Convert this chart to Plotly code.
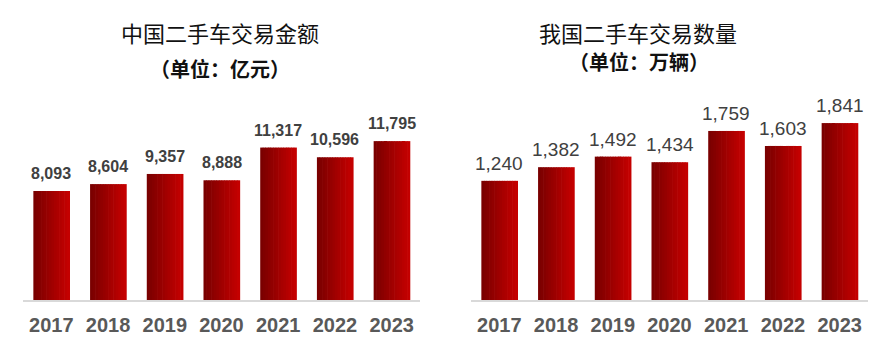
import plotly.graph_objects as go

years = ["2017", "2018", "2019", "2020", "2021", "2022", "2023"]
amount = [8093, 8604, 9357, 8888, 11317, 10596, 11795]   # 亿元
volume = [1240, 1382, 1492, 1434, 1759, 1603, 1841]      # 万辆

title_left = "中国二手车交易金额"
sub_left = "（单位：亿元）"
title_right = "我国二手车交易数量"
sub_right = "（单位：万辆）"

# gradient stops (left -> right of each bar)
c0 = (0x7a, 0x00, 0x00)
c1 = (0xc4, 0x00, 0x00)
N = 14
BW = 0.635

fig = go.Figure()


def add_bars(xa, ya, vals):
    step = BW / N
    for i in range(N):
        t = i / (N - 1)
        col = "rgb(%d,%d,%d)" % tuple(round(a + (b - a) * t) for a, b in zip(c0, c1))
        fig.add_trace(go.Bar(
            x=years, y=vals, xaxis=xa, yaxis=ya,
            width=step * 1.25, offset=-BW / 2 + i * step,
            marker=dict(color=col, line=dict(width=0)),
            showlegend=False, hoverinfo="skip",
        ))


add_bars("x", "y", amount)
add_bars("x2", "y2", volume)

annotations = []
for i, v in enumerate(amount):
    annotations.append(dict(x=i, y=v, xref="x", yref="y", text=f"{v:,}",
                            showarrow=False, yanchor="bottom", yshift=7,
                            font=dict(family="Liberation Sans, Arial", size=16,
                                      color="#404040", weight="bold")))
for i, v in enumerate(volume):
    annotations.append(dict(x=i, y=v, xref="x2", yref="y2", text=f"{v:,}",
                            showarrow=False, yanchor="bottom", yshift=5,
                            font=dict(family="Liberation Sans, Arial", size=19,
                                      color="#404040")))

cjk = "Noto Sans CJK SC"
annotations += [
    dict(x=220 / 891, y=1 - 32 / 351, xref="paper", yref="paper", text=title_left,
         xanchor="center", yanchor="middle",
         showarrow=False, font=dict(family=cjk, size=22, color="#111111")),
    dict(x=220 / 891, y=1 - 68 / 351, xref="paper", yref="paper", text=sub_left,
         xanchor="center", yanchor="middle",
         showarrow=False, font=dict(family=cjk, size=20, color="#111111", weight="bold")),
    dict(x=638 / 891, y=1 - 32 / 351, xref="paper", yref="paper", text=title_right,
         xanchor="center", yanchor="middle",
         showarrow=False, font=dict(family=cjk, size=22, color="#111111")),
    dict(x=639 / 891, y=1 - 62 / 351, xref="paper", yref="paper", text=sub_right,
         xanchor="center", yanchor="middle",
         showarrow=False, font=dict(family=cjk, size=20, color="#111111", weight="bold")),
]

xcommon = dict(type="category", range=[-0.5, len(years) - 0.5], autorange=False,
               showline=True, linecolor="#d9d9d9", linewidth=2,
               showgrid=False, zeroline=False,
               ticks="outside", ticklen=6, tickcolor="rgba(0,0,0,0)",
               tickfont=dict(family="Liberation Sans, Arial", size=20,
                             color="#595959", weight="bold"))
ybottom = 1 - 300 / 351
ytop = 1 - 100 / 351

fig.update_layout(
    width=891, height=351,
    margin=dict(l=0, r=0, t=0, b=0),
    paper_bgcolor="white", plot_bgcolor="white",
    barmode="overlay",
    showlegend=False,
    xaxis=dict(domain=[23 / 891, 420 / 891], anchor="y", **xcommon),
    xaxis2=dict(domain=[471 / 891, 868 / 891], anchor="y2", **xcommon),
    yaxis=dict(domain=[ybottom, ytop], range=[0, 200 / 0.01347], visible=False,
               anchor="x"),
    yaxis2=dict(domain=[ybottom, ytop], range=[0, 200 / 0.0961], visible=False,
                anchor="x2"),
    annotations=annotations,
)

fig.write_html("out.html")
